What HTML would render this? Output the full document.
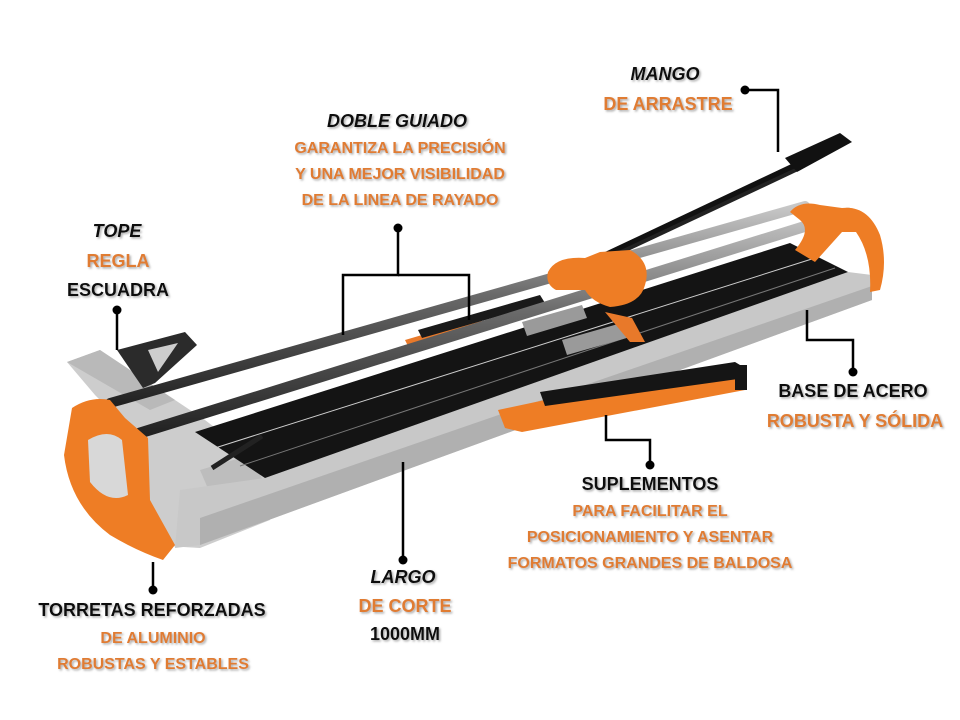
<!DOCTYPE html>
<html><head><meta charset="utf-8"><style>
html,body{margin:0;padding:0;background:#fff;}
svg{display:block;}
text{font-family:"Liberation Sans",sans-serif;font-weight:bold;text-anchor:middle;}
.k{fill:#111;font-size:18px;}
.o{fill:#e07b32;font-size:16px;}
.ob{fill:#e07b32;font-size:18px;}
.sh{filter:url(#s);}
</style></head><body>
<svg width="960" height="720" viewBox="0 0 960 720" xmlns="http://www.w3.org/2000/svg">
<defs>
<filter id="s" x="-10%" y="-30%" width="120%" height="160%"><feDropShadow dx="1.5" dy="1.5" stdDeviation="1" flood-color="#888" flood-opacity="0.7"/></filter>
<linearGradient id="rail" x1="0" y1="0" x2="0" y2="1"><stop offset="0" stop-color="#c8c8c8"/><stop offset=".45" stop-color="#6a6a6a"/><stop offset="1" stop-color="#222"/></linearGradient>
</defs>

<polygon points="67,362 100,350 205,420 270,470 270,520 200,548 150,545 140,440 95,395" fill="#cdcdcd"/>
<polygon points="67,362 100,350 175,400 150,410" fill="#b9b9b9"/>
<polygon points="200,470 250,455 268,490 215,505" fill="#bdbdbd"/>
<polygon points="180,490 265,478 848,272 872,275 872,300 200,545 175,548" fill="#c8c8c8"/>
<polygon points="200,518 872,286 872,300 200,545" fill="#b0b0b0"/>
<polygon points="195,432 790,243 848,272 265,478" fill="#141414"/>
<line x1="215" y1="448" x2="815" y2="258" stroke="#cfcfcf" stroke-width="1"/>
<line x1="240" y1="466" x2="835" y2="268" stroke="#777" stroke-width="1"/>
<polygon points="522,322 582,305 587,318 527,336" fill="#9a9a9a"/>
<polygon points="562,340 625,322 630,337 567,355" fill="#9a9a9a"/>
<polygon points="405,340 480,318 485,327 410,350" fill="#e8792a"/>
<polygon points="418,330 540,295 545,303 422,338" fill="#1a1a1a"/>
<polygon points="605,312 632,318 645,342 630,342" fill="#e8792a"/>
<polygon points="117,350 185,332 197,345 155,383 143,388" fill="#2b2b2b"/>
<polygon points="148,350 178,343 158,372" fill="#cdcdcd"/>
<line x1="212" y1="468" x2="262" y2="436" stroke="#222" stroke-width="5"/>
<line x1="555" y1="280" x2="805" y2="162" stroke="#111" stroke-width="8"/>
<line x1="600" y1="262" x2="800" y2="168" stroke="#222" stroke-width="4"/>
<polygon points="785,158 840,133 852,142 797,172" fill="#111"/>
<line x1="110" y1="403" x2="805" y2="206" stroke="url(#rail)" stroke-width="10" stroke-linecap="round"/>
<line x1="140" y1="433" x2="848" y2="213" stroke="url(#rail)" stroke-width="11" stroke-linecap="round"/>
<path d="M548,272 Q556,256 585,258 L600,252 L630,250 Q652,262 645,285 Q640,305 610,307 Q592,302 585,290 L556,290 Q545,284 548,272Z" fill="#ee7d25"/>
<path d="M790,212 Q800,200 820,205 L842,208 Q868,205 880,235 Q888,262 880,290 L870,292 Q872,255 856,232 L842,232 L815,262 L795,250 Q812,230 800,220 Z" fill="#ee7d25"/>
<path d="M72,408 Q90,396 110,400 L125,418 L148,438 L150,500 L175,545 L163,560 Q135,550 110,535 Q70,505 64,455 Z" fill="#ee7d25"/>
<path d="M88,440 Q108,428 122,440 L128,495 Q108,505 90,482 Z" fill="#d8d8d8"/>
<polygon points="498,410 545,400 745,365 745,390 522,432 505,428" fill="#ee7d25"/>
<polygon points="540,392 735,362 745,368 745,378 545,406" fill="#151515"/>
<rect x="735" y="365" width="12" height="25" fill="#151515"/>

<g stroke="#000" stroke-width="2.5" fill="none">
<polyline points="745,90 778,90 778,152"/>
<polyline points="398,228 398,275 343,275 343,335"/>
<polyline points="398,275 469,275 469,320"/>
<polyline points="117,310 117,350"/>
<polyline points="853,372 853,340 807,340 807,310"/>
<polyline points="650,465 650,440 606,440 606,415"/>
<polyline points="403,560 403,462"/>
<polyline points="153,590 153,562"/>
</g>
<g fill="#000">
<circle cx="745" cy="90" r="4.5"/><circle cx="398" cy="228" r="4.5"/><circle cx="117" cy="310" r="4.5"/>
<circle cx="853" cy="372" r="4.5"/><circle cx="650" cy="465" r="4.5"/><circle cx="403" cy="560" r="4.5"/><circle cx="153" cy="590" r="4.5"/>
</g>

<g class="sh">
<text class="k" x="665" y="80" font-style="italic">MANGO</text>
<text class="ob" x="668" y="110">DE ARRASTRE</text>
<text class="k" x="397" y="127" font-style="italic">DOBLE GUIADO</text>
<text class="o" x="400" y="153">GARANTIZA LA PRECISIÓN</text>
<text class="o" x="400" y="179">Y UNA MEJOR VISIBILIDAD</text>
<text class="o" x="400" y="205">DE LA LINEA DE RAYADO</text>
<text class="k" x="117" y="237" font-style="italic">TOPE</text>
<text class="ob" x="118" y="267">REGLA</text>
<text class="k" x="118" y="296">ESCUADRA</text>
<text class="k" x="853" y="397">BASE DE ACERO</text>
<text class="ob" x="855" y="427">ROBUSTA Y SÓLIDA</text>
<text class="k" x="650" y="490">SUPLEMENTOS</text>
<text class="o" x="650" y="516">PARA FACILITAR EL</text>
<text class="o" x="650" y="542">POSICIONAMIENTO Y ASENTAR</text>
<text class="o" x="650" y="568">FORMATOS GRANDES DE BALDOSA</text>
<text class="k" x="403" y="583" font-style="italic">LARGO</text>
<text class="ob" x="405" y="612">DE CORTE</text>
<text class="k" x="405" y="640">1000MM</text>
<text class="k" x="152" y="616">TORRETAS REFORZADAS</text>
<text class="o" x="153" y="643">DE ALUMINIO</text>
<text class="o" x="153" y="669">ROBUSTAS Y ESTABLES</text>
</g>
</svg>
</body></html>
